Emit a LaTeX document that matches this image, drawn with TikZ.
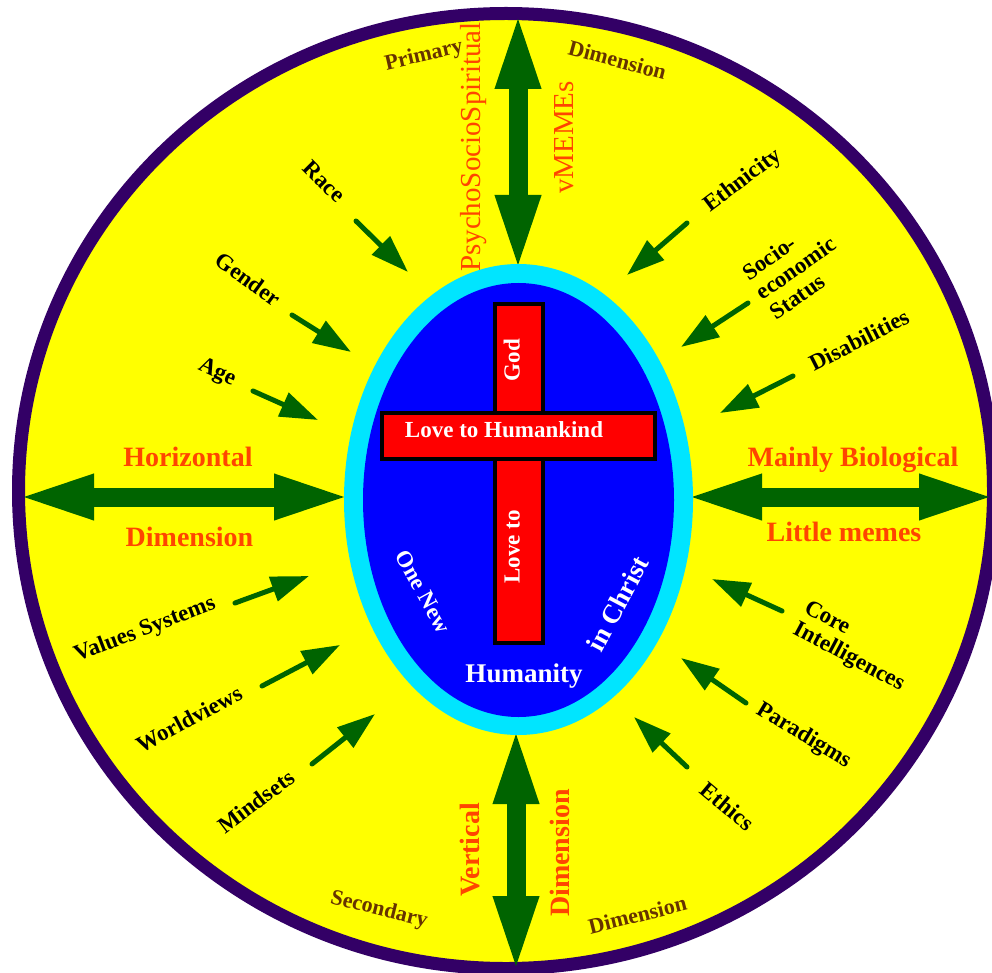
\documentclass[tikz,border=0pt]{standalone}
\usepackage{fontspec}
\setmainfont{Liberation Serif}
\usetikzlibrary{arrows.meta}
\definecolor{ringc}{HTML}{330066}
\definecolor{yel}{HTML}{FFFF00}
\definecolor{grn}{HTML}{006400}
\definecolor{orng}{HTML}{FF4500}
\definecolor{brwn}{HTML}{663300}
\definecolor{cyn}{HTML}{00E5FF}
\definecolor{blu}{HTML}{0000FF}
\definecolor{redc}{HTML}{FF0000}
\tikzset{
 blk/.style={inner sep=0pt, text height=15.6pt, text depth=4.6pt, font=\fontsize{23}{25}\selectfont\bfseries, text=black},
 blkm/.style={inner sep=0pt, align=left, font=\fontsize{23}{24}\selectfont\bfseries, text=black},
 brn/.style={inner sep=0pt, text height=15pt, text depth=4.4pt, font=\fontsize{22}{24}\selectfont\bfseries, text=brwn},
 orb/.style={inner sep=0pt, text height=19pt, text depth=5.6pt, font=\fontsize{28}{30}\selectfont\bfseries, text=orng},
 orr/.style={inner sep=0pt, text height=19.7pt, text depth=5.8pt, font=\fontsize{29}{31}\selectfont, text=orng},
 wht/.style={inner sep=0pt, text height=15.6pt, text depth=4.6pt, font=\fontsize{23}{25}\selectfont\bfseries, text=white},
 whtl/.style={inner sep=0pt, text height=18.4pt, text depth=5.4pt, font=\fontsize{27}{29}\selectfont\bfseries, text=white},
 smallarrow/.style={draw=grn, line width=5pt, line cap=round, -{Triangle[length=38pt,width=25pt]}},
 bigarrow/.style={draw=grn, line width=19pt, {Triangle[length=79pt,width=40pt]}-{Triangle[length=79pt,width=40pt]}},
 barbox/.style={draw=black, line width=4pt, fill=redc},
}
\begin{document}
\begin{tikzpicture}[x=1pt,y=-1pt]
\useasboundingbox (0,0) rectangle (992,973);
\fill[white] (0,0) rectangle (992,973);
% outer disc
\draw[ringc, line width=13pt, fill=yel] (506,491) ellipse [x radius=487.5pt, y radius=477.5pt];
% big arrows
\coordinate (tA) at (518,10);   \coordinate (tB) at (518,274);
\coordinate (bA) at (516,725);  \coordinate (bB) at (516,975);
\coordinate (lA) at (15,497);   \coordinate (lB) at (353,497);
\coordinate (rA) at (683,497);  \coordinate (rB) at (998,497);
\draw[bigarrow] (tA) -- (tB);
\draw[bigarrow] (bA) -- (bB);
\draw[bigarrow] (lA) -- (lB);
\draw[bigarrow] (rA) -- (rB);
% inner oval
\fill[cyn] (518.5,499.5) ellipse [x radius=174.5pt, y radius=235.5pt];
\fill[blu] (518.5,500) ellipse [x radius=155.5pt, y radius=217pt];
% cross
\draw[barbox] (494.5,304) rectangle (543,643);
\draw[barbox] (382,413) rectangle (655,459);
\node[wht, rotate=90] (god) at (514,360) {God};
\node[wht] (lovehk) at (504,432) {Love to Humankind};
\node[wht, rotate=90] (loveto) at (514,547) {Love to};
\node[wht, rotate=-61] (onenew) at (421.5,592.5) {One New};
\node[whtl] (humanity) at (524,676) {Humanity};
\node[whtl, rotate=62] (inchrist) at (620,605) {in Christ};
% orange labels
\node[orb] (horiz) at (188,460) {Horizontal};
\node[orb] (hdim) at (189.5,540) {Dimension};
\node[orb] (mainly) at (853,460) {Mainly Biological};
\node[orb] (little) at (844,535) {Little memes};
\node[orr, rotate=90] (psycho) at (474,147) {PsychoSocioSpiritual};
\node[orr, rotate=90] (vmemes) at (567,137.5) {vMEMEs};
\node[orb, rotate=90] (vert) at (473,850) {Vertical};
\node[orb, rotate=90] (vdim) at (563,853) {Dimension};
% brown labels
\node[brn, rotate=13] (primary) at (424,56) {Primary};
\node[brn, rotate=-15] (tdim) at (617,62) {Dimension};
\node[brn, rotate=-14] (secondary) at (379,910) {Secondary};
\node[brn, rotate=14] (bdim) at (638,917) {Dimension};
% black labels
\node[blk, rotate=-45] (race) at (323,183) {Race};
\node[blk, rotate=-36] (gender) at (247,281) {Gender};
\node[blk, rotate=-25] (age) at (217,373) {Age};
\node[blk, rotate=37] (ethnicity) at (743,181) {Ethnicity};
\node[blkm, rotate=35] (socio) at (796,268) {Socio-\\economic\\Status};
\node[blk, rotate=27] (disab) at (860,342) {Disabilities};
\node[blkm, rotate=-28] (core) at (854,647) {Core\\Intelligences};
\node[blk, rotate=-31] (paradigms) at (803.5,736) {Paradigms};
\node[blk, rotate=-40] (ethics) at (726,808) {Ethics};
\node[blk, rotate=21] (values) at (145,630) {Values Systems};
\node[blk, rotate=28] (worldviews) at (190,721) {Worldviews};
\node[blk, rotate=37] (mindsets) at (257.5,803.5) {Mindsets};
% small arrows
\coordinate (a1s) at (356,221); \coordinate (a1e) at (408,272);
\coordinate (a2s) at (292,315); \coordinate (a2e) at (351,352);
\coordinate (a3s) at (253,391); \coordinate (a3e) at (318,420);
\coordinate (a4s) at (235,603); \coordinate (a4e) at (309,576);
\coordinate (a5s) at (262,686); \coordinate (a5e) at (340,645);
\coordinate (a6s) at (312,764); \coordinate (a6e) at (375,714);
\coordinate (a7s) at (687,223); \coordinate (a7e) at (627,275);
\coordinate (a8s) at (748,303); \coordinate (a8e) at (681,347);
\coordinate (a9s) at (793,376); \coordinate (a9e) at (720,413);
\coordinate (a10s) at (782,611); \coordinate (a10e) at (712,579);
\coordinate (a11s) at (746,703); \coordinate (a11e) at (681,658);
\coordinate (a12s) at (687,767); \coordinate (a12e) at (634,717);
\foreach \i in {1,...,12} { \draw[smallarrow] (a\i s) -- (a\i e); }
\end{tikzpicture}
\end{document}
